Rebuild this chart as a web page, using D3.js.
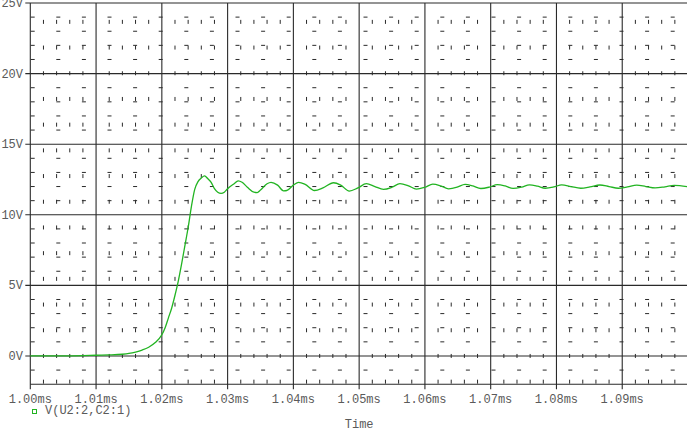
<!DOCTYPE html>
<html>
<head>
<meta charset="utf-8">
<script src="https://cdn.jsdelivr.net/npm/d3@7"></script>
<style>
  body { margin: 0; background: #fff; }
  svg { display: block; }
</style>
</head>
<body>
<div id="chart"></div>
<script>
// trace V(U2:2,C2:1)
const timeMs = [
  1.000, 1.005, 1.008, 1.010, 1.012, 1.014, 1.015, 1.016, 1.017, 1.018, 1.019,
  1.020, 1.0205, 1.021, 1.0215, 1.022, 1.0225, 1.023, 1.0235, 1.024, 1.0245,
  1.025, 1.0255, 1.026, 1.0265, 1.027, 1.0275, 1.028, 1.0285, 1.029, 1.0295,
  1.030, 1.031, 1.0316, 1.0322, 1.033, 1.034, 1.0345, 1.035, 1.036, 1.0366,
  1.0376, 1.0385, 1.039, 1.040, 1.0408, 1.0418, 1.0432, 1.0445, 1.0461, 1.0472,
  1.0485, 1.0498, 1.0511, 1.0524, 1.0537, 1.055, 1.0562, 1.0575, 1.0587, 1.060,
  1.0612, 1.0624, 1.0636, 1.0649, 1.0661, 1.0673, 1.0685, 1.0698, 1.0710, 1.0722,
  1.0734, 1.0747, 1.0759, 1.0771, 1.0783, 1.0796, 1.0808, 1.0822, 1.0837, 1.0851,
  1.0866, 1.0880, 1.0894, 1.0908, 1.0922, 1.0936, 1.0950, 1.0965, 1.0979, 1.100
];
const volts = [
  0.00, 0.00, 0.02, 0.05, 0.07, 0.12, 0.18, 0.28, 0.42, 0.62, 0.95,
  1.50, 2.00, 2.70, 3.40, 4.30, 5.30, 6.50, 7.80, 9.10, 10.6,
  11.8, 12.35, 12.6, 12.75, 12.55, 12.3, 11.85, 11.6, 11.52, 11.6,
  11.85, 12.2, 12.4, 12.3, 11.95, 11.6, 11.57, 11.75, 12.2, 12.3,
  12.1, 11.7, 11.72, 12.1, 12.3, 12.15, 11.72, 11.9, 12.27, 12.1,
  11.68, 11.9, 12.2, 12.0, 11.8, 11.95, 12.2, 12.05, 11.82, 11.95,
  12.17, 12.05, 11.84, 11.95, 12.15, 12.04, 11.86, 11.96, 12.13, 12.04,
  11.87, 11.96, 12.12, 12.03, 11.88, 11.97, 12.12, 12.0, 11.88, 11.97,
  12.11, 12.0, 11.88, 11.97, 12.1, 12.0, 11.9, 11.98, 12.08, 11.98
];

const xMajor = [1.00, 1.01, 1.02, 1.03, 1.04, 1.05, 1.06, 1.07, 1.08, 1.09, 1.10];
const xLabels = ["1.00ms", "1.01ms", "1.02ms", "1.03ms", "1.04ms", "1.05ms", "1.06ms", "1.07ms", "1.08ms", "1.09ms"];
const yMajor = [0, 5, 10, 15, 20, 25];
const yLabels = ["0V", "5V", "10V", "15V", "20V", "25V"];
const legendLabel = "V(U2:2,C2:1)";
const xTitle = "Time";

const W = 687, H = 431;
const font = "'Liberation Mono', 'Courier New', Courier, monospace";
const textColor = "#5a5a5a";

const x = d3.scaleLinear().domain([1.00, 1.10]).range([30.3, 688]);
const y = d3.scaleLinear().domain([-2, 25]).range([384.2, 3]);

const svg = d3.select("#chart").append("svg")
    .attr("width", W)
    .attr("height", H)
    .attr("font-family", font)
    .attr("font-size", 12);

const gridColor = "#2a2a2a";
const period = 25.7;

// minor grid: dashed lines that give the little marks
const xMinor = d3.range(1.002, 1.1, 0.002).filter(t => Math.abs(t * 100 - Math.round(t * 100)) > 1e-6);
svg.append("g").selectAll("line")
  .data(xMinor)
  .enter().append("line")
    .attr("x1", d => x(d)).attr("x2", d => x(d))
    .attr("y1", y(0) + 2 + period).attr("y2", y(25))
    .attr("stroke", gridColor)
    .attr("stroke-width", 1)
    .attr("stroke-dasharray", "4 " + (period - 4));

const yMinor = d3.range(-1, 25).filter(v => v % 5 !== 0);
svg.append("g").selectAll("line")
  .data(yMinor)
  .enter().append("line")
    .attr("x1", x(1.00) + 0.4).attr("x2", W)
    .attr("y1", d => y(d)).attr("y2", d => y(d))
    .attr("stroke", gridColor)
    .attr("stroke-width", 1)
    .attr("stroke-dasharray", "4 " + (period - 4.1));

// major grid
svg.append("g").selectAll("line")
  .data(xMajor)
  .enter().append("line")
    .attr("x1", d => x(d)).attr("x2", d => x(d))
    .attr("y1", y(25)).attr("y2", y(-2) + 5)
    .attr("stroke", gridColor)
    .attr("stroke-width", 1.1);

svg.append("g").selectAll("line")
  .data(yMajor)
  .enter().append("line")
    .attr("x1", x(1.00) - 5).attr("x2", W)
    .attr("y1", d => y(d)).attr("y2", d => y(d))
    .attr("stroke", gridColor)
    .attr("stroke-width", 1.1);

// bottom axis line
svg.append("line")
  .attr("x1", x(1.00)).attr("x2", W)
  .attr("y1", y(-2)).attr("y2", y(-2))
  .attr("stroke", gridColor)
  .attr("stroke-width", 1.1);

// tick labels
svg.append("g").selectAll("text")
  .data(xLabels)
  .enter().append("text")
    .attr("x", (d, i) => x(xMajor[i]))
    .attr("y", 403)
    .attr("text-anchor", "middle")
    .attr("fill", textColor)
    .text(d => d);

svg.append("g").selectAll("text")
  .data(yMajor)
  .enter().append("text")
    .attr("x", 23)
    .attr("y", d => y(d) + 4)
    .attr("text-anchor", "end")
    .attr("fill", textColor)
    .text((d, i) => yLabels[i]);

// the trace
const line = d3.line()
  .x((d, i) => x(timeMs[i]))
  .y(d => y(d))
  .curve(d3.curveMonotoneX);

svg.append("path")
  .datum(volts)
  .attr("fill", "none")
  .attr("stroke", "#22b422")
  .attr("stroke-width", 1.3)
  .attr("d", line);

// legend
svg.append("rect")
  .attr("x", 32.5).attr("y", 409.5)
  .attr("width", 4).attr("height", 4)
  .attr("fill", "none")
  .attr("stroke", "#22b422")
  .attr("stroke-width", 1);

svg.append("text")
  .attr("x", 45)
  .attr("y", 414)
  .attr("fill", textColor)
  .text(legendLabel);

svg.append("text")
  .attr("x", (x(1.00) + x(1.10)) / 2)
  .attr("y", 428)
  .attr("text-anchor", "middle")
  .attr("fill", textColor)
  .text(xTitle);
</script>
</body>
</html>
